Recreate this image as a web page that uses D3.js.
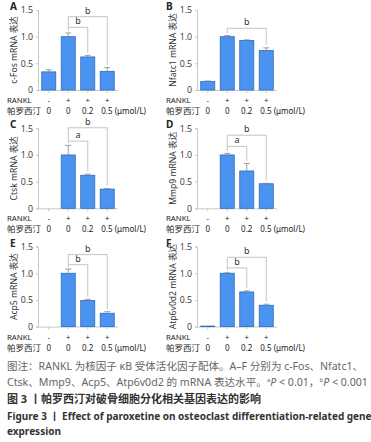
<!DOCTYPE html>
<html>
<head>
<meta charset="utf-8">
<script src="https://cdn.jsdelivr.net/npm/d3@7"></script>
<style>
body { margin:0; background:#fff; }
text { font-family: "Noto Sans", "Noto Sans CJK SC", sans-serif; }
</style>
</head>
<body>
<script>
// chart data
var panels = ["A", "B", "C", "D", "E", "F"];
var genes = ["c-Fos", "Nfatc1", "Ctsk", "Mmp9", "Acp5", "Atp6v0d2"];
var groups = ["g1", "g2", "g3", "g4"];
var rankl = ["-", "+", "+", "+"];
var doses = ["0", "0", "0.2", "0.5 (μmol/L)"];
var yTicks = [0, 0.5, 1.0, 1.5];
var yTickLabels = ["0", "0.5", "1.0", "1.5"];
var means = [
    [0.34, 1.00, 0.62, 0.35],
    [0.16, 1.00, 0.93, 0.74],
    [0.00, 1.00, 0.62, 0.36],
    [0.00, 1.00, 0.70, 0.46],
    [0.00, 1.00, 0.49, 0.25],
    [0.01, 1.00, 0.65, 0.40]
];
var errors = [
    [0.04, 0.07, 0.03, 0.07],
    [0.01, 0.02, 0.01, 0.05],
    [0.00, 0.18, 0.02, 0.01],
    [0.00, 0.03, 0.14, 0.01],
    [0.00, 0.08, 0.02, 0.03],
    [0.00, 0.01, 0.02, 0.02]
];
// significance brackets: [from bar, to bar, level, label]
var brackets = [
    [[1, 2, 1.175, "b"], [1, 3, 1.375, "b"]],
    [[1, 3, 1.157, "b"]],
    [[1, 2, 1.26, "a"], [1, 3, 1.51, "b"]],
    [[1, 2, 1.16, "a"], [1, 3, 1.37, "b"]],
    [[1, 2, 1.16, "b"], [1, 3, 1.35, "b"]],
    [[1, 2, 1.10, "b"], [1, 3, 1.30, "b"]]
];

var width = 371, height = 442;
var svg = d3.select("body").append("svg")
    .attr("width", width)
    .attr("height", height);

var y = d3.scaleLinear().domain([0, 1.5]).range([90, 10]);
var x = d3.scaleBand().domain(groups).range([39, 117])
    .paddingInner(0.28).paddingOuter(0.14);
var cx = function(k) { return x(groups[k]) + x.bandwidth() / 2; };

panels.forEach(function(p, i) {
    var col = i % 2, row = Math.floor(i / 2);
    var g = svg.append("g")
        .attr("transform", "translate(" + (col * 159) + "," + (row * 118.3) + ")");

    // panel letter
    g.append("text").attr("x", col ? 7 : 10).attr("y", 10)
        .style("font-size", "10px").style("font-weight", "bold")
        .style("fill", "#222").text(p);

    // y axis
    var yAxis = d3.axisLeft(y).tickValues(yTicks)
        .tickFormat(function(d, k) { return yTickLabels[k]; })
        .tickSize(2).tickPadding(3);
    var ya = g.append("g").attr("transform", "translate(38,0)").call(yAxis);
    ya.select(".domain").attr("stroke", "#c8c8c8");
    ya.selectAll(".tick line").attr("stroke", "#c8c8c8");
    ya.selectAll(".tick text").style("font-size", "8.8px").style("fill", "#333")
        .style("font-family", "'Open Sans', sans-serif");

    // x axis
    var xAxis = d3.axisBottom(x).tickSize(3).tickFormat("");
    var xa = g.append("g").attr("transform", "translate(0,90)").call(xAxis);
    xa.select(".domain").attr("d", "M38,0.5H118").attr("stroke", "#c8c8c8");
    xa.selectAll(".tick line").attr("stroke", "#c8c8c8");

    // y label
    g.append("text")
        .attr("transform", "translate(17," + y(0.75) + ") rotate(-90)")
        .attr("text-anchor", "middle")
        .style("font-size", "8.6px").style("fill", "#333")
        .text(genes[i] + " mRNA 表达");

    var rows = means[i].map(function(m, k) { return { k: k, m: m, e: errors[i][k] }; });

    // bars
    g.selectAll("rect.bar").data(rows).enter().append("rect")
        .attr("class", "bar")
        .attr("x", function(d) { return x(groups[d.k]); })
        .attr("width", x.bandwidth())
        .attr("y", function(d) { return y(d.m); })
        .attr("height", function(d) { return y(0) - y(d.m); })
        .attr("fill", "#4b93f0")
        .attr("stroke", "#2d69c0")
        .attr("stroke-width", 0.8);

    // error bars (upper only)
    var eb = g.selectAll("g.err").data(rows.filter(function(d) { return d.e > 0.005; }))
        .enter().append("g").attr("class", "err");
    eb.append("line")
        .attr("x1", function(d) { return cx(d.k); })
        .attr("x2", function(d) { return cx(d.k); })
        .attr("y1", function(d) { return y(d.m); })
        .attr("y2", function(d) { return y(d.m + d.e); })
        .attr("stroke", "#888").attr("stroke-width", 0.8);
    eb.append("line")
        .attr("x1", function(d) { return cx(d.k) - 3; })
        .attr("x2", function(d) { return cx(d.k) + 3; })
        .attr("y1", function(d) { return y(d.m + d.e); })
        .attr("y2", function(d) { return y(d.m + d.e); })
        .attr("stroke", "#888").attr("stroke-width", 0.8);

    // significance brackets
    var bl = brackets[i];
    bl.forEach(function(b, n) {
        var a = b[0], c = b[1], lev = b[2];
        var leftEnd = n > 0 ? bl[n - 1][2] : means[i][a] + errors[i][a] + 0.04;
        var rightEnd = means[i][c] + errors[i][c] + 0.05;
        g.append("path")
            .attr("d", "M" + cx(a) + "," + y(leftEnd) + "V" + y(lev) + "H" + cx(c) + "V" + y(rightEnd))
            .attr("fill", "none").attr("stroke", "#bdbdbd").attr("stroke-width", 0.9);
        g.append("text")
            .attr("x", (cx(a) + cx(c)) / 2).attr("y", y(lev) - 3)
            .attr("text-anchor", "middle")
            .style("font-size", "9px").style("fill", "#333")
            .text(b[3]);
    });

    // RANKL / dose rows
    g.append("text").attr("x", 7).attr("y", 103)
        .style("font-size", "7.8px").style("fill", "#222").text("RANKL");
    g.append("text").attr("x", 7).attr("y", 114)
        .style("font-size", "8.5px").style("fill", "#222").text("帕罗西汀");
    g.selectAll("text.rk").data(rankl).enter().append("text").attr("class", "rk")
        .attr("x", function(d, k) { return cx(k); })
        .attr("y", 103).attr("text-anchor", "middle")
        .style("font-size", "7.8px").style("fill", "#222").text(function(d) { return d; });
    g.selectAll("text.ds").data(doses).enter().append("text").attr("class", "ds")
        .attr("x", function(d, k) { return cx(k) - (k === 3 ? 6 : 0); })
        .attr("y", 114)
        .attr("text-anchor", function(d, k) { return k === 3 ? "start" : "middle"; })
        .style("font-size", "8px").style("fill", "#222").text(function(d) { return d; });
});

// caption
var cap = svg.append("g");
cap.append("text").attr("x", 7).attr("y", 370)
    .style("font-size", "10px").style("fill", "#666")
    .attr("textLength", 356).attr("lengthAdjust", "spacingAndGlyphs")
    .text("图注：RANKL 为核因子 κB 受体活化因子配体。A–F 分别为 c-Fos、Nfatc1、");
var l2 = cap.append("text").attr("x", 7).attr("y", 386)
    .style("font-size", "10.6px").style("fill", "#666");
l2.append("tspan").text("Ctsk、Mmp9、Acp5、Atp6v0d2 的 mRNA 表达水平。");
l2.append("tspan").text("a").style("font-size", "6px").attr("dy", -4);
l2.append("tspan").text("P").style("font-style", "italic").attr("dy", 4);
l2.append("tspan").text(" < 0.01，");
l2.append("tspan").text("b").style("font-size", "6px").attr("dy", -4);
l2.append("tspan").text("P").style("font-style", "italic").attr("dy", 4);
l2.append("tspan").text(" < 0.001");
cap.append("text").attr("x", 7).attr("y", 403)
    .style("font-size", "11px").style("fill", "#333").style("font-weight", "bold")
    .text("图 3 丨帕罗西汀对破骨细胞分化相关基因表达的影响");
cap.append("text").attr("x", 7).attr("y", 420)
    .style("font-size", "10px").style("fill", "#333").style("font-weight", "bold")
    .text("Figure 3 丨 Effect of paroxetine on osteoclast differentiation-related gene");
cap.append("text").attr("x", 7).attr("y", 435)
    .style("font-size", "10px").style("fill", "#333").style("font-weight", "bold")
    .text("expression");
</script>
</body>
</html>
